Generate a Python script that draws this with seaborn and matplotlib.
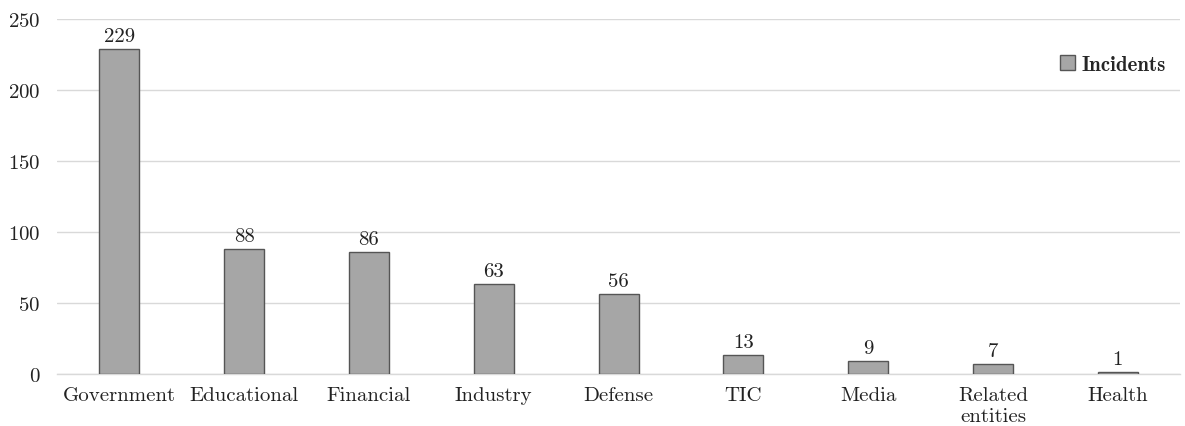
import matplotlib
matplotlib.use("Agg")
import matplotlib.pyplot as plt
import seaborn as sns
import pandas as pd
from matplotlib.ticker import FixedLocator
from matplotlib.patches import Patch

categories = ["Government", "Educational", "Financial", "Industry", "Defense",
              "TIC", "Media", "Related\nentities", "Health"]
incidents = [229, 88, 86, 63, 56, 13, 9, 7, 1]
yticks = [0, 50, 100, 150, 200, 250]
series_name = "Incidents"

sns.set_style("white")
plt.rcParams["font.family"] = ["cmr10", "DejaVu Serif"]
plt.rcParams["axes.formatter.use_mathtext"] = True

FS = 15

df = pd.DataFrame({"category": categories, "value": incidents})

fig = plt.figure(figsize=(11.85, 4.27), dpi=100)
ax = fig.add_axes([0.048, 0.122, 0.948, 0.831])

sns.barplot(data=df, x="category", y="value", color="#a6a6a6", width=0.32,
            edgecolor="#555555", linewidth=1.0, saturation=1, ax=ax, zorder=3)

ax.set_ylim(0, 250)
ax.set_xlim(-0.5, len(categories) - 0.5)
ax.set_yticks(yticks)
ax.yaxis.grid(True, color="#d9d9d9", linewidth=1.0, zorder=0)
ax.set_axisbelow(True)
for s in ["left", "right", "top"]:
    ax.spines[s].set_visible(False)
ax.spines["bottom"].set_color("#d9d9d9")
ax.spines["bottom"].set_linewidth(1.0)

ax.tick_params(axis="y", length=0, labelsize=FS, pad=12, colors="#222222")
ax.tick_params(axis="x", which="major", length=0, labelsize=FS, pad=9, colors="#222222")
ax.xaxis.set_minor_locator(FixedLocator([i - 0.5 for i in range(len(categories) + 1)]))
ax.tick_params(axis="x", which="minor", length=6, color="#d9d9d9", width=1.0)
ax.set_xlabel("")
ax.set_ylabel("")

for c in ax.containers:
    ax.bar_label(c, labels=[str(v) for v in incidents], padding=3, fontsize=FS, color="#222222")

handle = Patch(facecolor="#a6a6a6", edgecolor="#555555", label=series_name)
leg = ax.legend(handles=[handle], loc="center right", bbox_to_anchor=(1.0, 0.873),
                frameon=False, handlelength=0.7, handleheight=0.7, handletextpad=0.3,
                borderaxespad=0.3, prop={"family": "cmb10", "size": FS})

fig.savefig("out.png", dpi=100)
